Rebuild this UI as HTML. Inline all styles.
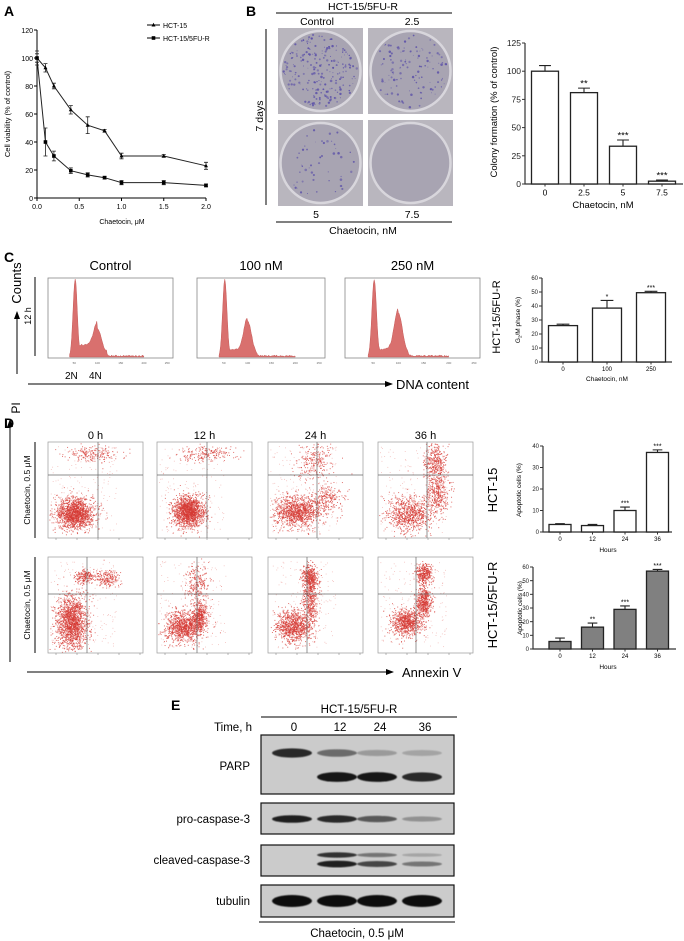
<!DOCTYPE html>
<html><head><meta charset="utf-8">
<style>
html,body{margin:0;padding:0;background:#fff;}
svg{display:block;font-family:"Liberation Sans",Arial,sans-serif;}
</style></head>
<body>
<svg id="fig" width="684" height="941" viewBox="0 0 684 941" xmlns="http://www.w3.org/2000/svg">
<defs>
<filter id="blur1"><feGaussianBlur stdDeviation="0.6"/></filter>
<marker id="arr" markerWidth="8" markerHeight="8" refX="7" refY="4" orient="auto"><path d="M0,1 L8,4 L0,7 z" fill="#000"/></marker>
</defs>

<text x="4" y="16" font-size="14" font-weight="bold">A</text>
<text x="246" y="16" font-size="14" font-weight="bold">B</text>
<text x="4" y="262" font-size="14" font-weight="bold">C</text>
<text x="4" y="428" font-size="14" font-weight="bold">D</text>
<text x="171" y="710" font-size="14" font-weight="bold">E</text>

<g id="panelA"></g>
<g id="panelB"></g>
<g id="panelBbar"></g>
<g id="panelC"></g>
<g id="panelCbar"></g>
<g id="panelD"></g>
<g id="panelDbar1"></g>
<g id="panelDbar2"></g>
<g id="panelE"></g>
</svg>
<script>
// ---------- DATA ----------
const aDoses = [0, 0.1, 0.2, 0.4, 0.6, 0.8, 1.0, 1.5, 2.0];
const aHct15 = [100, 93, 80, 63, 52, 48, 30, 30, 23];
const aHct15Err = [3, 3, 2, 3, 6, 1, 2, 1, 2.5];
const aResist = [100, 40, 30, 19.5, 16.5, 14.5, 11, 11, 9];
const aResistErr = [5, 10, 3.5, 2, 1.5, 1, 1.5, 1.5, 1];
const aYTicks = [0, 20, 40, 60, 80, 100, 120];
const aXTicks = ["0.0", "0.5", "1.0", "1.5", "2.0"];

const bCats = ["0", "2.5", "5", "7.5"];
const bVals = [100, 81, 33.5, 2.5];
const bErr = [5, 4, 5.5, 1];
const bStars = ["", "**", "***", "***"];
const bYTicks = [0, 25, 50, 75, 100, 125];

const cCats = ["0", "100", "250"];
const cVals = [26, 38.5, 49.5];
const cErr = [1, 5.5, 1];
const cStars = ["", "*", "***"];
const cYTicks = [0, 10, 20, 30, 40, 50, 60];

const d1Cats = ["0", "12", "24", "36"];
const d1Vals = [3.5, 3, 10, 37];
const d1Err = [0.4, 0.5, 1.6, 1.2];
const d1Stars = ["", "", "***", "***"];
const d1YTicks = [0, 10, 20, 30, 40];

const d2Cats = ["0", "12", "24", "36"];
const d2Vals = [5.5, 16, 29, 57];
const d2Err = [2.5, 3, 2.5, 1.2];
const d2Stars = ["", "**", "***", "***"];
const d2YTicks = [0, 10, 20, 30, 40, 50, 60];

const NS = "http://www.w3.org/2000/svg";
function el(parent, tag, attrs, text) {
  const e = document.createElementNS(NS, tag);
  for (const k in attrs) e.setAttribute(k, attrs[k]);
  if (text !== undefined) e.textContent = text;
  parent.appendChild(e);
  return e;
}

// ---------- PANEL A ----------
(function(){
  const g = document.getElementById('panelA');
  const x0 = 37, x1 = 206, y0 = 198, y1 = 30;
  const sx = v => x0 + (v / 2) * (x1 - x0);
  const sy = v => y0 - (v / 120) * (y0 - y1);
  const ax = el(g, 'path', {d:`M${x0},${y1} V${y0} H${x1}`, stroke:'#000', fill:'none', 'stroke-width':1});
  
  
  aYTicks.forEach(t => {
    el(g, 'line', {x1:x0-3, x2:x0, y1:sy(t), y2:sy(t), stroke:'#000'});
    const tl = el(g, 'text', {x:x0-4, y:sy(t)+3, 'font-size':7, 'text-anchor':'end'}, t);
    
    
  });
  aXTicks.forEach(t => {
    const v = parseFloat(t);
    el(g, 'line', {x1:sx(v), x2:sx(v), y1:y0, y2:y0+3, stroke:'#000'});
    const tl = el(g, 'text', {x:sx(v), y:y0+11, 'font-size':7, 'text-anchor':'middle'}, t);
    
    
  });
  const xt = el(g, 'text', {x:122, y:224, 'font-size':7, 'text-anchor':'middle'}, 'Chaetocin, μM');
  
  
  const yt = el(g, 'text', {x:0, y:0, 'font-size':7.5, 'text-anchor':'middle', transform:'translate(10,114) rotate(-90)'}, 'Cell viability (% of control)');
  
  
  function series(vals, errs, marker, name) {
    const pts = vals.map((v,i)=>`${sx(aDoses[i])},${sy(v)}`).join(' ');
    const pl = el(g, 'polyline', {points:pts, fill:'none', stroke:'#222', 'stroke-width':1});
    
    
    vals.forEach((v,i)=>{
      const x = sx(aDoses[i]), ya = sy(v+errs[i]), yb = sy(v-errs[i]);
      el(g, 'path', {d:`M${x},${ya} V${yb} M${x-2},${ya} H${x+2} M${x-2},${yb} H${x+2}`, stroke:'#222', 'stroke-width':0.8, fill:'none'});
      let m;
      if (marker === 'tri') m = el(g, 'path', {d:`M${x},${sy(v)-2.2} L${x+2},${sy(v)+1.5} L${x-2},${sy(v)+1.5} z`, fill:'#000'});
      else m = el(g, 'rect', {x:x-1.8, y:sy(v)-1.8, width:3.6, height:3.6, fill:'#000'});
      
      
    });
  }
  series(aHct15, aHct15Err, 'tri', 'hct15');
  series(aResist, aResistErr, 'sq', 'hct15-5fur');
  el(g, 'line', {x1:147, x2:160, y1:25, y2:25, stroke:'#000'});
  el(g, 'path', {d:'M153.5,22.8 L155.5,26.5 L151.5,26.5 z', fill:'#000'});
  const l1 = el(g, 'text', {x:163, y:28, 'font-size':7}, 'HCT-15');
  
  
  el(g, 'line', {x1:147, x2:160, y1:38, y2:38, stroke:'#000'});
  el(g, 'rect', {x:151.7, y:36.2, width:3.6, height:3.6, fill:'#000'});
  const l2 = el(g, 'text', {x:163, y:41, 'font-size':7}, 'HCT-15/5FU-R');
  
  
})();

let seed = 12345;
function rnd(){ seed = (seed * 1103515245 + 12345) & 0x7fffffff; return seed / 0x7fffffff; }
function gauss(){ let u = rnd()||1e-6, v = rnd(); return Math.sqrt(-2*Math.log(u))*Math.cos(2*Math.PI*v); }

// ---------- PANEL B images ----------
(function(){
  const g = document.getElementById('panelB');
  const t = el(g, 'text', {x:363, y:10, 'font-size':10.5, 'text-anchor':'middle'}, 'HCT-15/5FU-R');
   
  el(g, 'line', {x1:276, x2:452, y1:13, y2:13, stroke:'#000'});
  el(g, 'text', {x:317, y:25, 'font-size':10.5, 'text-anchor':'middle'}, 'Control');
  el(g, 'text', {x:412, y:25, 'font-size':10.5, 'text-anchor':'middle'}, '2.5');
  el(g, 'line', {x1:266, x2:266, y1:29, y2:205, stroke:'#000'});
  el(g, 'text', {x:0, y:0, 'font-size':10.5, 'text-anchor':'middle', transform:'translate(263,116) rotate(-90)'}, '7 days');
  el(g, 'text', {x:316, y:218, 'font-size':10.5, 'text-anchor':'middle'}, '5');
  el(g, 'text', {x:412, y:218, 'font-size':10.5, 'text-anchor':'middle'}, '7.5');
  el(g, 'line', {x1:276, x2:452, y1:222, y2:222, stroke:'#000'});
  const ct = el(g, 'text', {x:363, y:234, 'font-size':10.5, 'text-anchor':'middle'}, 'Chaetocin, nM');
   
  const wells = [[278,28,110,'well-control'],[368,28,60,'well-2-5'],[278,120,25,'well-5'],[368,120,0,'well-7-5']];
  wells.forEach(w=>{
    const [x,y,n,name] = w;
    const r = el(g, 'rect', {x:x, y:y, width:85, height:86, fill:'#b9b6be'});
     
    const cx = x+42.5, cy = y+43;
    el(g, 'circle', {cx:cx, cy:cy, r:40, fill:'#a8a4b2', stroke:'#d8d6dc', 'stroke-width':2.5});
    for (let i=0;i<n*2;i++){
      const a = rnd()*Math.PI*2, rr = Math.sqrt(rnd())*37;
      el(g, 'circle', {cx:cx+rr*Math.cos(a), cy:cy+rr*Math.sin(a), r:0.4+rnd()*0.9, fill:'#5a4fa8', opacity:0.5+rnd()*0.4});
    }
  });
})();

// ---------- generic bar chart ----------
function barChart(gid, o){
  const g = document.getElementById(gid);
  const sy = v => o.y0 - (v / o.ymax) * (o.y0 - o.y1);
  el(g, 'path', {d:`M${o.ax},${o.y1} V${o.y0} H${o.xend}`, stroke:'#333', fill:'none', 'stroke-width':1.2});
  o.yticks.forEach(t=>{
    el(g, 'line', {x1:o.ax-3, x2:o.ax, y1:sy(t), y2:sy(t), stroke:'#333'});
    const tl = el(g, 'text', {x:o.ax-4, y:sy(t)+o.fs*0.35, 'font-size':o.fs, 'text-anchor':'end', fill:'#222'}, t);
     
  });
  o.cats.forEach((c,i)=>{
    const x = o.bx[0] + i*o.bstep;
    const v = o.vals[i], e = o.err[i];
    const b = el(g, 'rect', {x:x-o.bw/2, y:sy(v), width:o.bw, height:o.y0-sy(v), fill:o.fill, stroke:'#222', 'stroke-width':1.3});
     
    el(g, 'path', {d:`M${x},${sy(v)} V${sy(v+e)} M${x-o.bw*0.22},${sy(v+e)} H${x+o.bw*0.22}`, stroke:'#222', 'stroke-width':1.1, fill:'none'});
    if (o.stars[i]) el(g, 'text', {x:x, y:sy(v+e)-1.5, 'font-size':o.fs+1, 'text-anchor':'middle'}, o.stars[i]);
    el(g, 'line', {x1:x, x2:x, y1:o.y0, y2:o.y0+2.5, stroke:'#333'});
    const tl = el(g, 'text', {x:x, y:o.y0+o.fs+3, 'font-size':o.fs, 'text-anchor':'middle'}, c);
     
  });
  const xt = el(g, 'text', {x:o.xtx, y:o.xty, 'font-size':o.tfs, 'text-anchor':'middle'}, o.xtitle);
   
  const yt = el(g, 'text', {x:0, y:0, 'font-size':o.tfs, 'text-anchor':'middle', transform:`translate(${o.ytx},${o.yty}) rotate(-90)`});
   
  if (o.ytitleHTML) { o.ytitleHTML(yt); } else yt.textContent = o.ytitle;
}
barChart('panelBbar', {prefix:'b', cats:bCats, vals:bVals, err:bErr, stars:bStars, yticks:bYTicks, ymax:125,
  ax:525, y0:184, y1:43, xend:683, bx:[545], bstep:39, bw:27, fill:'#fff', fs:8.5, tfs:9.5,
  xtitle:'Chaetocin, nM', xtx:603, xty:208, ytitle:'Colony formation (% of control)', ytx:497, yty:112});
barChart('panelCbar', {prefix:'c', cats:cCats, vals:cVals, err:cErr, stars:cStars, yticks:cYTicks, ymax:60,
  ax:542, y0:362, y1:278, xend:672, bx:[563], bstep:44, bw:29, fill:'#fff', fs:6, tfs:6.5,
  xtitle:'Chaetocin, nM', xtx:607, xty:381, ytx:520, yty:320,
  ytitleHTML: t => { el(t,'tspan',{},'G'); el(t,'tspan',{'font-size':4.5,dy:1.5},'2'); el(t,'tspan',{dy:-1.5},'/M phase (%)'); }});
barChart('panelDbar1', {prefix:'d1', cats:d1Cats, vals:d1Vals, err:d1Err, stars:d1Stars, yticks:d1YTicks, ymax:40,
  ax:543, y0:532, y1:446, xend:672, bx:[560], bstep:32.5, bw:22, fill:'#fff', fs:6, tfs:6.5,
  xtitle:'Hours', xtx:608, xty:552, ytitle:'Apoptotic cells (%)', ytx:521, yty:490});
barChart('panelDbar2', {prefix:'d2', cats:d2Cats, vals:d2Vals, err:d2Err, stars:d2Stars, yticks:d2YTicks, ymax:60,
  ax:533, y0:649, y1:567, xend:676, bx:[560], bstep:32.5, bw:22, fill:'#808080', fs:6, tfs:6.5,
  xtitle:'Hours', xtx:608, xty:669, ytitle:'Apoptotic cells (%)', ytx:522, yty:608});

// ---------- PANEL C histograms ----------
const cHistTitles = ["Control", "100 nM", "250 nM"];
const cG1Height = [1.0, 1.0, 1.0];
const cG2Height = [0.30, 0.42, 0.52];
const cSHeight = [0.22, 0.13, 0.14];
(function(){
  const g = document.getElementById('panelC');
  const boxes = [[48,278,125],[197,278,128],[345,278,135]];
  const ct = el(g, 'text', {x:0, y:0, 'font-size':13, 'text-anchor':'middle', transform:'translate(21,283) rotate(-90)'}, 'Counts');
   
  el(g, 'line', {x1:17, x2:17, y1:374, y2:312, stroke:'#000', 'marker-end':'url(#arr)'});
  el(g, 'line', {x1:35, x2:35, y1:277, y2:356, stroke:'#000'});
  el(g, 'text', {x:0, y:0, 'font-size':9, 'text-anchor':'middle', transform:'translate(31,316) rotate(-90)'}, '12 h');
  el(g, 'text', {x:65, y:379, 'font-size':10}, '2N');
  el(g, 'text', {x:89, y:379, 'font-size':10}, '4N');
  el(g, 'line', {x1:28, x2:392, y1:384, y2:384, stroke:'#000', 'marker-end':'url(#arr)'});
  const dn = el(g, 'text', {x:396, y:389, 'font-size':13}, 'DNA content');
   
  const rl = el(g, 'text', {x:0, y:0, 'font-size':11, 'text-anchor':'middle', transform:'translate(500,317) rotate(-90)'}, 'HCT-15/5FU-R');
   
  boxes.forEach((b,i)=>{
    const [x,y,w] = b, h = 80;
    const tt = el(g, 'text', {x:x+w/2, y:270, 'font-size':13, 'text-anchor':'middle'}, cHistTitles[i]);
     
    const bx = (v)=> x + 3 + v/256*(w-6);
    let d = `M${bx(40)},${y+h-1}`;
    for (let v=40; v<=200; v+=1.5){
      const g1 = cG1Height[i]*Math.exp(-Math.pow((v-52)/4.5,2)/2);
      const g2 = cG2Height[i]*Math.exp(-Math.pow((v-100)/8,2)/2);
      const s = (v>52 && v<100) ? cSHeight[i] : (v>=100 && v<120 ? cSHeight[i]*0.4 : 0.02);
      const val = Math.min(1, Math.max(g1,g2+s*0.7, v<48?0:s*0.5) + (rnd()-0.5)*0.02);
      d += ` L${bx(v)},${y+h-1 - val*(h-2)}`;
    }
    d += ` L${bx(200)},${y+h-1} Z`;
    const hp = el(g, 'path', {d:d, fill:'#d9706e', stroke:'#c65a58', 'stroke-width':0.5});
     
    const bo = el(g, 'rect', {x:x, y:y, width:w, height:h, fill:'none', stroke:'#888', 'stroke-width':0.8});
     
    for (let k=0;k<6;k++) el(g,'text',{x:bx(k*50), y:y+h+6, 'font-size':3, 'text-anchor':'middle', fill:'#666'}, k*50||'');
  });
})();

// ---------- PANEL D scatter ----------
const dTimes = ["0 h", "12 h", "24 h", "36 h"];
const dRow1Clusters = [
  [[0.28,0.74,0.10,0.08,1500],[0.45,0.12,0.14,0.04,200]],
  [[0.33,0.72,0.08,0.08,1500],[0.50,0.12,0.14,0.04,200]],
  [[0.30,0.72,0.12,0.08,1100],[0.50,0.20,0.10,0.10,250],[0.62,0.60,0.08,0.08,250]],
  [[0.32,0.75,0.12,0.09,800],[0.60,0.22,0.06,0.10,400],[0.62,0.55,0.06,0.10,350]]
];
const dRow2Clusters = [
  [[0.25,0.68,0.08,0.14,1600],[0.38,0.20,0.05,0.04,200],[0.62,0.22,0.06,0.04,200]],
  [[0.28,0.72,0.10,0.08,1000],[0.45,0.62,0.04,0.08,400],[0.42,0.28,0.06,0.10,250]],
  [[0.26,0.72,0.09,0.08,900],[0.44,0.45,0.04,0.15,500],[0.44,0.20,0.04,0.06,350]],
  [[0.30,0.68,0.08,0.07,800],[0.48,0.46,0.04,0.08,500],[0.48,0.17,0.04,0.05,350]]
];
(function(){
  const g = document.getElementById('panelD');
  const xs = [48,157,268,378], w = 95, h = 96;
  const rows = [[442, [98,207,317,427], 475, dRow1Clusters],[557,[87,197,307,416],594, dRow2Clusters]];
  dTimes.forEach((t,i)=>{
    const tt = el(g, 'text', {x:xs[i]+w/2, y:439, 'font-size':11, 'text-anchor':'middle'}, t);
     
  });
  rows.forEach((r,ri)=>{
    const [y, vx, hy, clusters] = r;
    xs.forEach((x,i)=>{
      const sg = el(g, 'g', {});
       
      clusters[i].forEach(c=>{
        const [fx,fy,sx,sy,n] = c;
        for (let k=0;k<n;k++){
          const px = x + (fx + gauss()*sx)*w, py = y + (fy + gauss()*sy)*h;
          if (px<x+1||px>x+w-1||py<y+1||py>y+h-1) continue;
          el(sg, 'rect', {x:px, y:py, width:1, height:1, fill:'#d63a34', opacity:0.7});
        }
      });
      for (let k=0;k<150;k++) el(sg,'rect',{x:x+rnd()*w*0.7+2, y:y+rnd()*h*0.9+4, width:0.8, height:0.8, fill:'#e46a64', opacity:0.5});
      el(g, 'rect', {x:x, y:y, width:w, height:h, fill:'none', stroke:'#999', 'stroke-width':0.7});
      el(g, 'line', {x1:vx[i], x2:vx[i], y1:y, y2:y+h, stroke:'#666', 'stroke-width':0.7});
      el(g, 'line', {x1:x, x2:x+w, y1:hy, y2:hy, stroke:'#666', 'stroke-width':0.7});
      for (let k=0;k<5;k++) el(g,'line',{x1:x+8+k*21, x2:x+8+k*21, y1:y+h, y2:y+h+2, stroke:'#777','stroke-width':0.5});
    });
    el(g, 'line', {x1:35, x2:35, y1:y, y2:y+h, stroke:'#000'});
    el(g, 'text', {x:0, y:0, 'font-size':8.5, 'text-anchor':'middle', transform:`translate(30,${y+h/2}) rotate(-90)`}, 'Chaetocin,  0.5 μM');
  });
  el(g, 'line', {x1:10, x2:10, y1:662, y2:420, stroke:'#000', 'marker-end':'url(#arr)'});
  const pi = el(g, 'text', {x:0, y:0, 'font-size':12, 'text-anchor':'middle', transform:'translate(20,408) rotate(-90)'}, 'PI');
   
  el(g, 'line', {x1:27, x2:393, y1:672, y2:672, stroke:'#000', 'marker-end':'url(#arr)'});
  const an = el(g, 'text', {x:402, y:677, 'font-size':13}, 'Annexin V');
   
  const r1 = el(g, 'text', {x:0, y:0, 'font-size':13, 'text-anchor':'middle', transform:'translate(497,490) rotate(-90)'}, 'HCT-15');
   
  const r2 = el(g, 'text', {x:0, y:0, 'font-size':13, 'text-anchor':'middle', transform:'translate(497,605) rotate(-90)'}, 'HCT-15/5FU-R');
   
})();

// ---------- PANEL E western ----------
const eLanes = ["0", "12", "24", "36"];
const eParpFull = [0.85, 0.5, 0.25, 0.2];
const eParpCleaved = [0, 0.95, 0.95, 0.85];
const eProCasp = [0.9, 0.85, 0.6, 0.3];
const eCleavedUpper = [0, 0.8, 0.45, 0.2];
const eCleavedLower = [0, 0.9, 0.7, 0.45];
const eTubulin = [1, 1, 1, 1];
(function(){
  const g = document.getElementById('panelE');
  const lx = [292, 337, 377, 422];
  el(g, 'text', {x:359, y:713, 'font-size':11.5, 'text-anchor':'middle'}, 'HCT-15/5FU-R');
  el(g, 'line', {x1:261, x2:457, y1:717, y2:717, stroke:'#000'});
  el(g, 'text', {x:252, y:731, 'font-size':11.5, 'text-anchor':'end'}, 'Time, h');
  eLanes.forEach((l,i)=>{
    const t = el(g, 'text', {x:lx[i]+(i?3:2), y:731, 'font-size':11.5, 'text-anchor':'middle'}, l);
     
  });
  const blots = [
    ['PARP', 735, 794, 770, [[eParpFull,753,5],[eParpCleaved,777,5]]],
    ['pro-caspase-3', 803, 834, 823, [[eProCasp,819,4]]],
    ['cleaved-caspase-3', 845, 876, 864, [[eCleavedUpper,855,3],[eCleavedLower,864,3.5]]],
    ['tubulin', 885, 917, 905, [[eTubulin,901,6]]]
  ];
  blots.forEach(b=>{
    const [name, y0, y1, ty, bands] = b;
    const bl = el(g, 'rect', {x:261, y:y0, width:193, height:y1-y0, fill:'#cbcbcb', stroke:'#111', 'stroke-width':1.2});
     
    const lab = el(g, 'text', {x:250, y:ty, 'font-size':11.5, 'text-anchor':'end'}, name);
     
    bands.forEach(bd=>{
      const [arr, cy, ry] = bd;
      arr.forEach((v,i)=>{
        if (v<=0) return;
        const band = el(g, 'ellipse', {cx:lx[i], cy:cy, rx:20, ry:ry*(0.5+0.5*v), fill:'#111', opacity:v, filter:'url(#blur1)'});
         
      });
    });
  });
  el(g, 'line', {x1:259, x2:455, y1:922, y2:922, stroke:'#000'});
  const ct = el(g, 'text', {x:357, y:937, 'font-size':11.5, 'text-anchor':'middle'}, 'Chaetocin, 0.5 μM');
   
})();
</script>
</body></html>
